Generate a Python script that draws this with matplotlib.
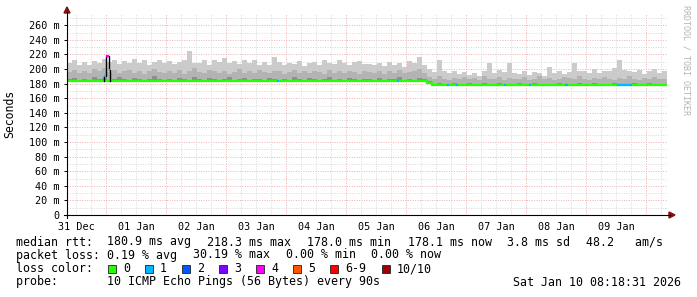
import matplotlib
matplotlib.use("Agg")
import matplotlib.pyplot as plt
from matplotlib.patches import Rectangle, Polygon
from matplotlib.lines import Line2D
from datetime import datetime

plt.rcParams['font.family'] = ['DejaVu Sans Mono', 'DejaVu Sans']

# ---------------- data ----------------
start_time = datetime(2025, 12, 31, 8, 18, 31)
end_time = datetime(2026, 1, 10, 8, 18, 31)
column_hours = 2.0

median_ms = [
    183, 183, 183, 183, 183, 183, 183, 183, 183, 183, 183, 183, 183, 183, 183, 183, 183, 183, 183, 183,
    183, 183, 183, 183, 183, 183, 183, 183, 183, 183, 183, 183, 183, 183, 183, 183, 183, 183, 183, 183,
    183, 183, 183, 183, 183, 183, 183, 183, 183, 183, 183, 183, 183, 183, 183, 183, 183, 183, 183, 183,
    183, 183, 183, 183, 183, 183, 183, 183, 183, 183, 183, 183, 181, 178.8, 178.8, 178.8, 178.8, 178.8, 178.8, 178.8,
    178.8, 178.8, 178.8, 178.8, 178.8, 178.8, 178.8, 178.8, 178.8, 178.8, 178.8, 178.8, 178.8, 178.8, 178.8, 178.8, 178.8, 178.8, 178.8, 178.8,
    178.8, 178.8, 178.8, 178.8, 178.8, 178.8, 178.8, 178.8, 178.8, 178.8, 178.8, 178.8, 178.8, 178.8, 178.8, 178.8, 178.8, 178.8, 178.8, 178.8,
]

smoke_max_ms = [
    209, 212, 205, 210, 206, 211, 208, 214, 210, 213, 207, 211, 209, 214, 208, 212, 206, 210, 213, 209,
    211, 207, 210, 212, 225, 209, 209, 213, 206, 212, 210, 215, 208, 211, 207, 213, 209, 212, 206, 210,
    206, 216, 210, 205, 209, 207, 211, 204, 208, 210, 206, 212, 209, 207, 213, 208, 205, 210, 211, 207,
    207, 205, 209, 204, 210, 206, 208, 203, 211, 209, 217, 206, 200, 196, 212, 198, 195, 197, 193, 196,
    192, 195, 191, 197, 209, 194, 199, 196, 208, 195, 193, 197, 192, 196, 194, 191, 203, 195, 198, 193,
    196, 208, 197, 197, 195, 200, 194, 198, 197, 201, 212, 199, 198, 196, 199, 193, 197, 200, 195, 198,
]

smoke_mid_ms = [
    196, 199, 194, 198, 195, 200, 197, 201, 196, 199, 194, 197, 199, 195, 198, 193, 197, 200, 196, 194,
    198, 195, 199, 193, 197, 201, 196, 194, 199, 197, 195, 198, 193, 196, 200, 195, 197, 194, 199, 196,
    195, 198, 197, 193, 196, 199, 194, 197, 195, 198, 196, 193, 199, 195, 197, 194, 198, 196, 193, 197,
    196, 194, 198, 193, 197, 195, 199, 194, 196, 198, 200, 195, 189, 186, 190, 187, 185, 188, 186, 189,
    186, 188, 185, 190, 187, 186, 189, 185, 188, 187, 186, 189, 185, 187, 190, 186, 188, 185, 187, 189,
    188, 186, 190, 187, 185, 188, 186, 189, 187, 185, 188, 186, 190, 187, 185, 188, 186, 189, 187, 186,
]

smoke_low_ms = [
    186, 188, 185, 187, 184, 189, 186, 188, 185, 187, 189, 186, 184, 188, 186, 185, 187, 190, 186, 184,
    187, 185, 188, 186, 184, 189, 187, 185, 188, 186, 184, 187, 189, 185, 186, 188, 184, 187, 186, 185,
    188, 186, 184, 187, 185, 189, 186, 184, 188, 187, 185, 186, 189, 184, 187, 185, 188, 186, 184, 187,
    186, 185, 188, 184, 187, 186, 189, 185, 187, 184, 188, 186, 183, 180, 181, 180, 180, 181, 180, 180,
    181, 180, 180, 181, 180, 180, 181, 180, 180, 180, 181, 180, 180, 181, 180, 180, 180, 180, 181, 180,
    180, 180, 181, 180, 180, 181, 180, 180, 180, 181, 180, 180, 180, 181, 180, 180, 181, 180, 180, 180,
]

# lossy median samples (hours after start, duration, lost pings)
loss_start_h = [84.0, 132.0, 152.0, 155.6, 174.8, 184.8, 199.0, 220.0]
loss_len_h = [0.8, 0.8, 0.8, 0.8, 0.8, 0.8, 1.2, 6.0]
loss_count = [1, 1, 1, 1, 1, 1, 1, 1]

# the spike near 01 Jan midnight
spike_start_h = [14.8, 15.6, 16.6]
spike_len_h = [0.8, 1.0, 0.6]
spike_ms = [191.0, 218.3, 199.0]
spike_loss = [1, 4, 1]

y_ticks = [0, 20, 40, 60, 80, 100, 120, 140, 160, 180, 200, 220, 240, 260]
y_tick_labels = ['0', '20 m', '40 m', '60 m', '80 m', '100 m', '120 m', '140 m',
                 '160 m', '180 m', '200 m', '220 m', '240 m', '260 m']
day_labels = ['31 Dec', '01 Jan', '02 Jan', '03 Jan', '04 Jan',
              '05 Jan', '06 Jan', '07 Jan', '08 Jan', '09 Jan']

loss_names = ['0', '1', '2', '3', '4', '5', '6-9', '10/10']
loss_colors = ['#26ff00', '#00b8ff', '#0059ff', '#7e00ff',
               '#ff00ff', '#ff5500', '#ff0000', '#a10000']

legend_rtt = ['median rtt:', '180.9 ms avg', '218.3 ms max', '178.0 ms min',
              '178.1 ms now', '3.8 ms sd', '48.2   am/s']
legend_loss = ['packet loss:', '0.19 % avg', '30.19 % max', '0.00 % min', '0.00 % now']
probe_text = 'probe:       10 ICMP Echo Pings (56 Bytes) every 90s'
stamp_text = 'Sat Jan 10 08:18:31 2026'


def loss_color(n):
    if n <= 5:
        return loss_colors[n]
    if n < 10:
        return loss_colors[6]
    return loss_colors[7]


# ---------------- figure ----------------
W, H = 697, 297
fig = plt.figure(figsize=(W / 100, H / 100), dpi=100)
fig.patch.set_facecolor('white')


def fx(px):
    return px / W


def fy(py):
    return 1 - py / H


AX_L, AX_R, AX_T, AX_B = 67, 667, 14, 215
ax = fig.add_axes([fx(AX_L), fy(AX_B), (AX_R - AX_L) / W, (AX_B - AX_T) / H])
ax.set_facecolor('white')
total_h = (end_time - start_time).total_seconds() / 3600
ax.set_xlim(0, total_h)
ax.set_ylim(0, 275.5)
for s in ax.spines.values():
    s.set_visible(False)

MAJ = '#eab0b0'
MIN = '#d8d8d8'
dot = (0, (1, 1.5))

# horizontal grid
for v in range(10, 276, 10):
    ax.axhline(v, color=MAJ if v % 20 == 0 else MIN, lw=0.7, ls=dot, zorder=0.5)

# vertical grid
first_midnight = (datetime(2026, 1, 1) - start_time).total_seconds() / 3600
t = first_midnight % 6
while t < total_h:
    r = (t - first_midnight) % 24
    is_major = r < 1e-6 or abs(r - 24) < 1e-6
    ax.axvline(t, color=MAJ if is_major else MIN, lw=0.7, ls=dot, zorder=0.5)
    t += 6

# smoke
n = len(median_ms)
centers = [column_hours * (i + 0.5) for i in range(n)]
edges = [column_hours * i for i in range(n + 1)]
for arr, col in ((smoke_max_ms, '#cbcbcb'), (smoke_mid_ms, '#b3b3b3'), (smoke_low_ms, '#8e8e8e')):
    ax.bar(centers, [a - m for a, m in zip(arr, median_ms)], bottom=median_ms,
           width=column_hours, color=col, linewidth=0, zorder=2)

# median line
ax.stairs(median_ms, edges, baseline=None, color=loss_colors[0], lw=1.6, zorder=4)

# lossy samples
for s0, ln, c in zip(loss_start_h, loss_len_h, loss_count):
    m = median_ms[int(s0 // column_hours)]
    ax.hlines(m, s0, s0 + ln, color=loss_color(c), lw=1.6, zorder=5)

# spike
base = median_ms[int(spike_start_h[0] // column_hours)]
sp_edges = spike_start_h + [spike_start_h[-1] + spike_len_h[-1]]
path_x = [sp_edges[0]]
path_y = [base]
for i, v in enumerate(spike_ms):
    path_x += [sp_edges[i], sp_edges[i + 1]]
    path_y += [v, v]
path_x.append(sp_edges[-1])
path_y.append(base)
ax.plot(path_x, path_y, color='black', lw=1.0, zorder=5)
for s0, ln, v, c in zip(spike_start_h, spike_len_h, spike_ms, spike_loss):
    ax.hlines(v, s0, s0 + ln, color=loss_color(c), lw=1.6, zorder=6)

# ticks
ax.set_yticks(y_ticks)
ax.set_yticklabels(y_tick_labels)
noon_pos = [first_midnight - 12 + 24 * i for i in range(len(day_labels))]
ax.set_xticks(noon_pos)
ax.set_xticklabels(day_labels)
ax.tick_params(axis='y', length=2.5, width=0.7, pad=3, labelsize=7.3, colors='black')
ax.tick_params(axis='x', length=0, pad=5, labelsize=7.3)

# axis lines and arrows
AR = '#801010'
fig.add_artist(Line2D([fx(64), fx(670)], [fy(AX_B), fy(AX_B)], color='black', lw=0.8))
fig.add_artist(Line2D([fx(AX_L), fx(AX_L)], [fy(218), fy(12)], color='black', lw=0.8))
fig.add_artist(Polygon([[fx(AX_L - 3), fy(13)], [fx(AX_L + 3), fy(13)], [fx(AX_L), fy(7)]],
                       closed=True, color=AR, transform=fig.transFigure))
fig.add_artist(Polygon([[fx(669), fy(AX_B - 3)], [fx(669), fy(AX_B + 3)], [fx(675), fy(AX_B)]],
                       closed=True, color=AR, transform=fig.transFigure))

# y label and watermark
fig.text(fx(10), fy(114), 'Seconds', rotation=90, ha='center', va='center', fontsize=8.3)
fig.text(fx(686), fy(5), 'RRDTOOL / TOBI OETIKER', rotation=270, ha='center', va='top',
         fontsize=6.0, color='#b4b4b4')

# legend
FS = 8.4
rtt_x = [16, 107, 207, 307, 408, 507, 586]
for x, s in zip(rtt_x, legend_rtt):
    fig.text(fx(x), fy(242), s, ha='left', va='center', fontsize=FS)
loss_x = [16, 107, 193, 286, 371]
for x, s in zip(loss_x, legend_loss):
    fig.text(fx(x), fy(255), s, ha='left', va='center', fontsize=FS)
fig.text(fx(16), fy(268.5), 'loss color:', ha='left', va='center', fontsize=FS)
box_x = [108, 145, 182, 219, 256, 293, 330, 382]
for x, name, col in zip(box_x, loss_names, loss_colors):
    fig.add_artist(Rectangle((fx(x), fy(272.5)), 8 / W, 8 / H, facecolor=col,
                             edgecolor='#222222', lw=0.6, transform=fig.transFigure))
    fig.text(fx(x + 15), fy(268.5), name, ha='left', va='center', fontsize=FS)
fig.text(fx(16), fy(282), probe_text, ha='left', va='center', fontsize=FS)
fig.text(fx(681), fy(282), stamp_text, ha='right', va='center', fontsize=FS)

fig.savefig('out.png', dpi=100, facecolor='white')
